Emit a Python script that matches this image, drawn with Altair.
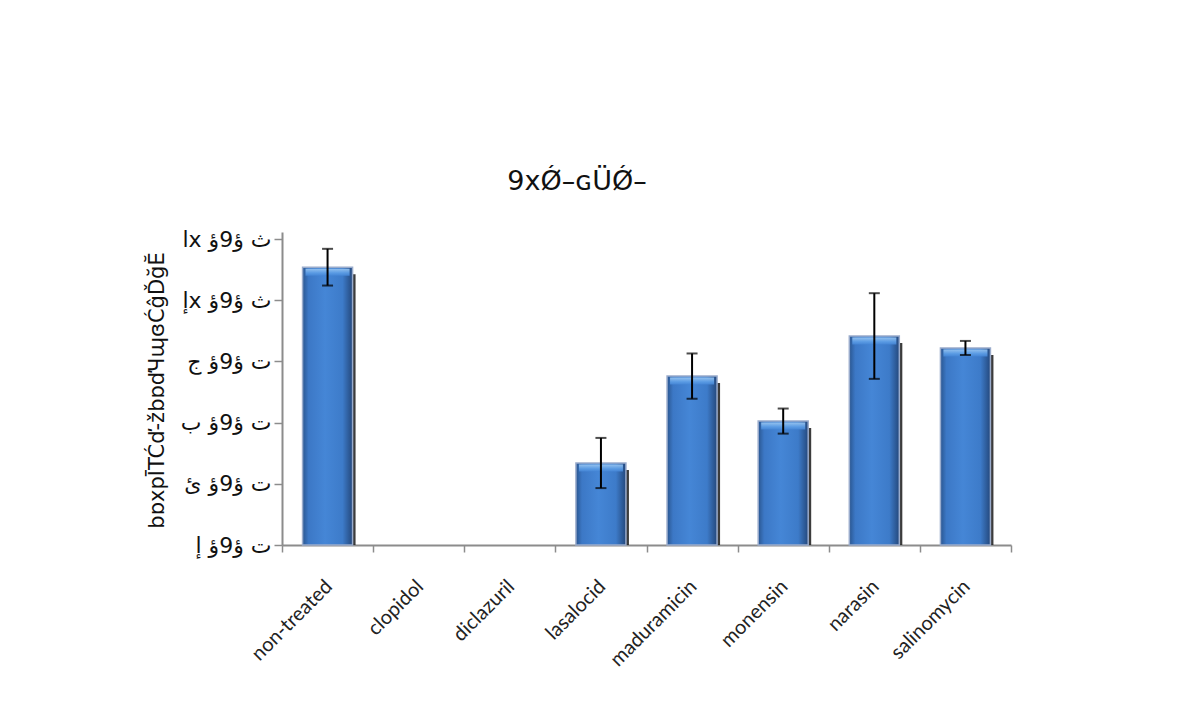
import json
import altair as alt
import pandas as pd

categories = ["non-treated", "clopidol", "diclazuril", "lasalocid",
              "maduramicin", "monensin", "narasin", "salinomycin"]
values = [90.8, None, None, 26.8, 55.2, 40.5, 68.3, 64.4]
errors = [6.0, None, None, 8.2, 7.4, 4.1, 14.0, 2.3]

y_ticks = [0, 20, 40, 60, 80, 100]
y_tick_labels = ["\u202dإ ؤ9ؤ ت", "\u202dئ ؤ9ؤ ت", "\u202dب ؤ9ؤ ت",
                 "\u202dج ؤ9ؤ ت", "\u202dإx ؤ9ؤ ث", "\u202dاx ؤ9ؤ ث"]
chart_title = "9xǾ–ɢÜǾ–"
y_title = "bɒxpĪTĆď-žbɒďЧɰɞĆĝĎğĔ"

df = pd.DataFrame({"cat": categories, "val": values, "err": errors})
df["lo"] = df["val"] - df["err"]
df["hi"] = df["val"] + df["err"]

FONT = "Lato"
label_expr = json.dumps(y_tick_labels) + "[round(datum.value / 20)]"

x_enc = alt.X("cat:N", sort=categories, title=None,
              scale=alt.Scale(paddingInner=0, paddingOuter=0),
              axis=alt.Axis(labelAngle=-45, labelFontSize=20, labelFont=FONT,
                            labelColor="#222", labelPadding=24, labelOffset=-6,
                            tickBand="extent",
                            tickSize=7, tickColor="#8c8c8c", domainColor="#8c8c8c",
                            domainWidth=2, tickWidth=1.5))
y_scale = alt.Scale(domain=[0, 102.3], nice=False)
y_enc = alt.Y("val:Q", scale=y_scale, title=y_title,
              axis=alt.Axis(values=y_ticks, labelExpr=label_expr, labelFontSize=22,
                            labelFont="DejaVu Sans", labelColor="#111", grid=False,
                            tickSize=8, tickColor="#8c8c8c", domainColor="#8c8c8c",
                            domainWidth=2, tickWidth=1.5, labelPadding=3,
                            titleFont="DejaVu Sans", titleFontSize=21,
                            titleFontWeight="normal", titleColor="#111",
                            titleX=-125, titleY=158, titleAlign="center",
                            titleBaseline="middle"))

base = alt.Chart(df).encode(x=x_enc)

grad = alt.Gradient(
    gradient="linear", x1=0, x2=1, y1=0, y2=0,
    stops=[alt.GradientStop(color="#2a5690", offset=0),
           alt.GradientStop(color="#3c78c6", offset=0.12),
           alt.GradientStop(color="#4586d6", offset=0.45),
           alt.GradientStop(color="#3d7bc9", offset=0.8),
           alt.GradientStop(color="#24487c", offset=1)])
hl = alt.Gradient(
    gradient="linear", x1=0, x2=0, y1=0, y2=1,
    stops=[alt.GradientStop(color="#9cc8f2", offset=0),
           alt.GradientStop(color="#5d9ee6", offset=0.6),
           alt.GradientStop(color="#4586d6", offset=1)])

shadow = base.mark_bar(size=50, xOffset=3, yOffset=7, color="#1a1a1a", opacity=0.85).encode(
    y=y_enc, y2=alt.datum(0))
bars = base.mark_bar(size=50, color=grad, stroke="#9aaccc", strokeWidth=1.5).encode(
    y=alt.Y("val:Q", scale=y_scale), y2=alt.datum(0))
tops = base.mark_tick(size=44, thickness=7, yOffset=5, color=hl, opacity=0.9).encode(
    y=alt.Y("val:Q", scale=y_scale))
rule = base.mark_rule(color="black", strokeWidth=2).encode(
    y=alt.Y("lo:Q", scale=y_scale), y2="hi:Q")
cap_lo = base.mark_tick(size=11, thickness=2, color="black").encode(
    y=alt.Y("lo:Q", scale=y_scale))
cap_hi = base.mark_tick(size=11, thickness=2, color="black").encode(
    y=alt.Y("hi:Q", scale=y_scale))
title = alt.Chart(pd.DataFrame({"t": [chart_title]})).mark_text(
    font="DejaVu Sans", fontSize=27, color="#111", align="center", baseline="middle"
).encode(text="t:N", x=alt.value(295), y=alt.value(-50))

chart = alt.layer(shadow, bars, tops, rule, cap_lo, cap_hi, title).properties(
    width=729, height=313,
    background="white",
    autosize=alt.AutoSizeParams(type="none"),
    padding={"left": 274, "top": 224, "right": 171, "bottom": 162},
).configure_view(strokeWidth=0)

chart.save("out.html", embed_options={"renderer": "svg", "actions": False})
